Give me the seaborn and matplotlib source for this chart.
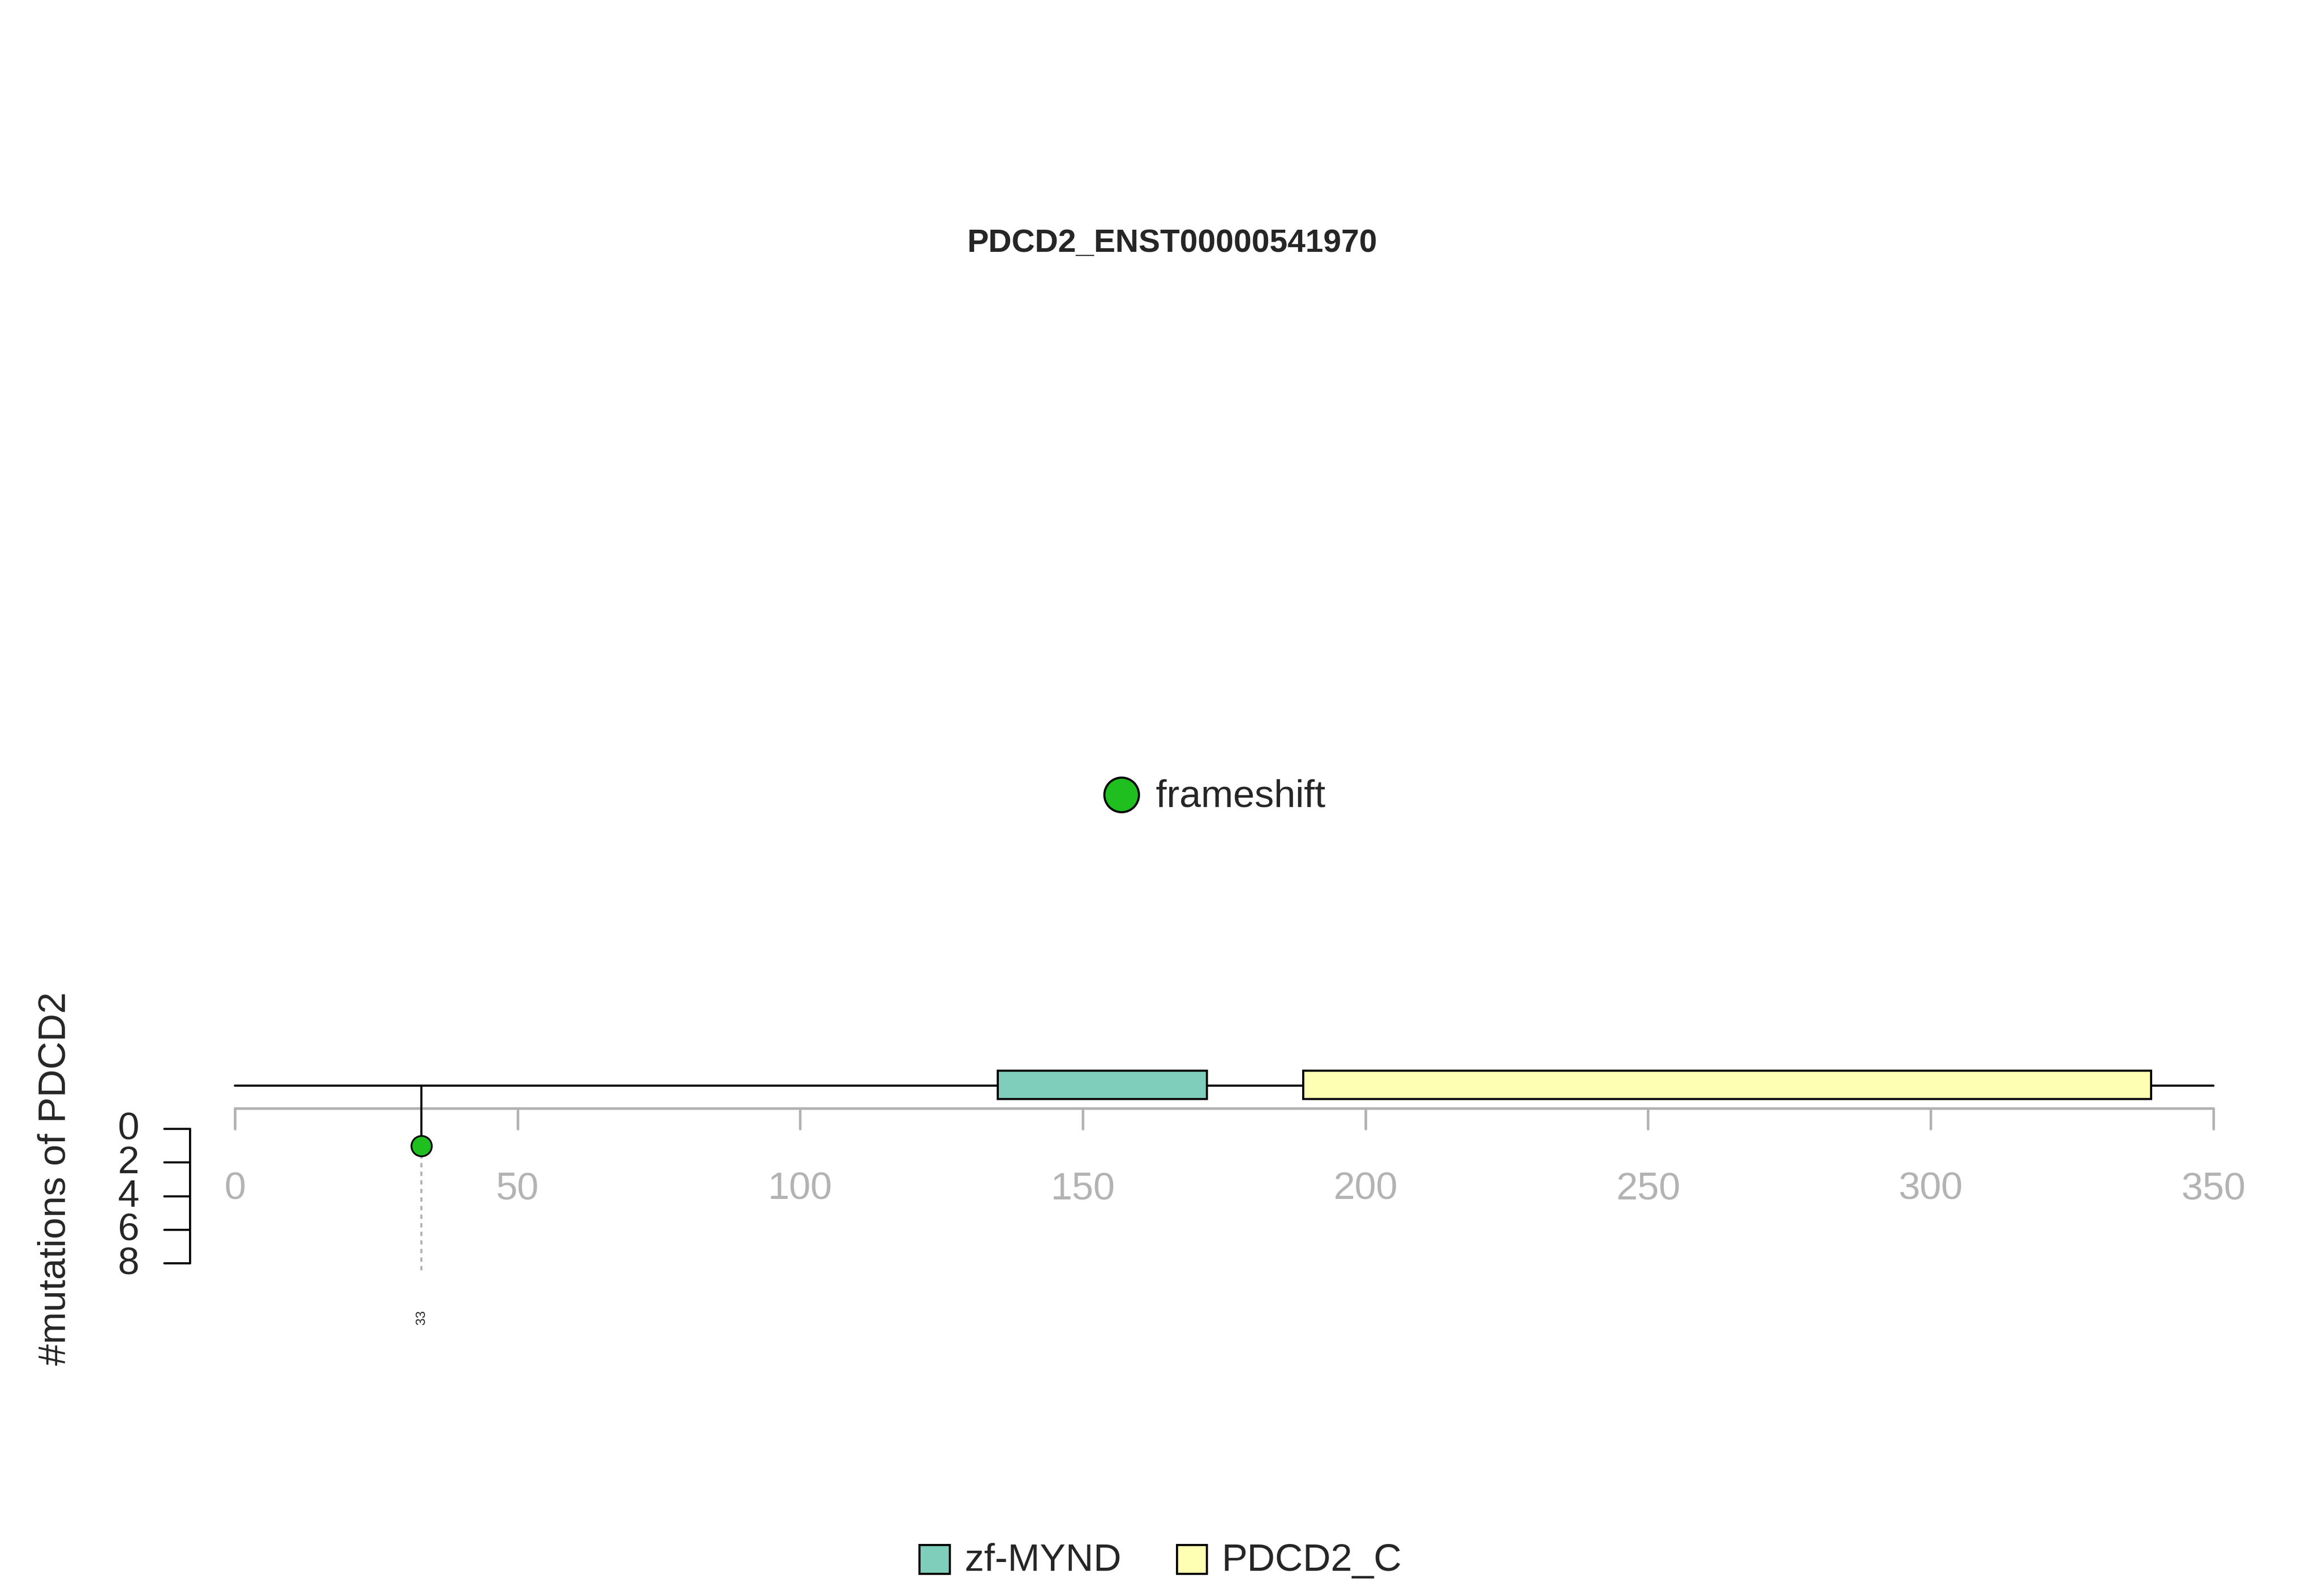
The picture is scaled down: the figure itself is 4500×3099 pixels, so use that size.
import matplotlib
matplotlib.use("Agg")
import matplotlib.pyplot as plt
import seaborn as sns
import pandas as pd
from matplotlib.patches import Rectangle

title = "PDCD2_ENST00000541970"
gene = "PDCD2"
protein_len = 350
domain_names = ["zf-MYND", "PDCD2_C"]
domain_start = [135, 189]
domain_end = [172, 339]
domain_colors = ["#7fcdbb", "#ffffb3"]
mut_pos = [33]
mut_count = [1]
mut_type = ["frameshift"]
mut_colors = {"frameshift": "#1fbf1f"}
xticks = [0, 50, 100, 150, 200, 250, 300, 350]
yticks = [0, 2, 4, 6, 8]

sns.set_style("white")
plt.rcParams["font.family"] = ["Liberation Sans", "DejaVu Sans"]

W, H = 1550, 1070
x0_px, x1_px = 157, 1480
upp = protein_len / (x1_px - x0_px)

def px(x):  # horizontal ref pixel -> data x
    return (x - x0_px) * upp

def cy(c):  # mutation count -> ref pixel y
    return 757 + c * 11.25

fig = plt.figure(figsize=(15, 10.333), dpi=300)
ax = fig.add_axes([0, 0, 1, 1])
ax.set_xlim(px(0), px(W))
ax.set_ylim(H, 0)
ax.axis("off")

ax.text(px(784), 163, title, ha="center", va="center", fontsize=15, fontweight="bold")

# backbone and domains
ax.plot([0, protein_len], [728, 728], color="black", lw=1)
for s, e, c in zip(domain_start, domain_end, domain_colors):
    ax.add_patch(Rectangle((s, 718), e - s, 19, facecolor=c, edgecolor="black", lw=1, zorder=3))

# position axis
grey = "#b3b3b3"
ax.plot([0, protein_len], [743, 743], color=grey, lw=1.2)
for t in xticks:
    ax.plot([t, t], [743, 757], color=grey, lw=1.2)
    ax.text(t, 797, str(t), ha="center", va="center", fontsize=18, color=grey)

# mutation count axis
yx = px(127)
ax.plot([yx, yx], [cy(0), cy(8)], color="black", lw=1)
for t in yticks:
    ax.plot([yx, px(110)], [cy(t), cy(t)], color="black", lw=1)
    ax.text(px(93), cy(t), str(t), ha="right", va="center", fontsize=18)
ax.text(px(37), 790, "#mutations of " + gene, rotation=90, ha="center", va="center", fontsize=18)

# lollipops
df = pd.DataFrame({"pos": mut_pos, "y": [cy(c) for c in mut_count], "type": mut_type})
for p, yy in zip(df["pos"], df["y"]):
    ax.plot([p, p], [728, yy], color="black", lw=1, zorder=2)
    ax.plot([p, p], [yy, 852], color=grey, lw=1, ls=(0, (2, 2)), zorder=1)
    ax.text(p, 883, str(p), rotation=90, ha="center", va="center", fontsize=6)
sns.scatterplot(data=df, x="pos", y="y", hue="type", palette=mut_colors, s=90,
                edgecolor="black", linewidth=0.8, legend=False, ax=ax, zorder=4)

# type legend
ax.scatter([px(750)], [533], s=260, color=mut_colors["frameshift"], edgecolor="black", lw=1, zorder=4)
ax.text(px(773), 534, "frameshift", ha="left", va="center", fontsize=18)

# domain legend
for lx, name, c in zip([625, 797], domain_names, domain_colors):
    ax.add_patch(Rectangle((px(lx - 10), 1036), 20 * upp, 19, facecolor=c, edgecolor="black", lw=1))
    ax.text(px(lx + 20), 1046, name, ha="left", va="center", fontsize=18)

fig.savefig("out.png", dpi=300)
